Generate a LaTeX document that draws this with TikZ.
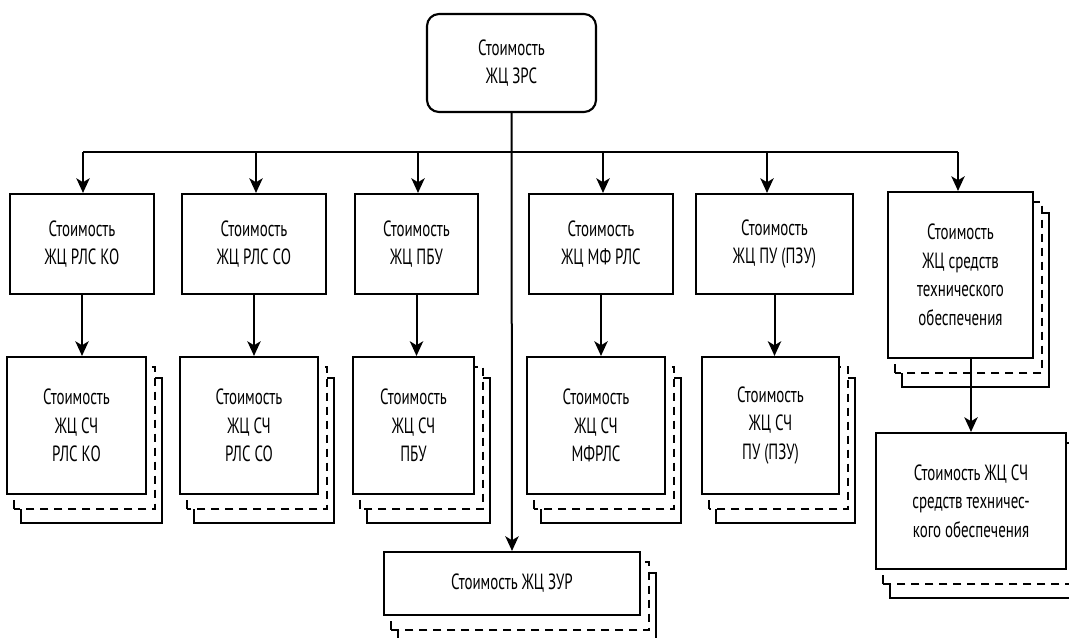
\documentclass[tikz,border=0pt]{standalone}
\usepackage{fontspec}
\setmainfont{PT Sans}[FakeStretch=0.68]
\usetikzlibrary{arrows.meta,backgrounds}
\newcommand\stackback[1]{%
  \path[backsolid] ([shift={(15,28)}]#1.south west) rectangle ([shift={(15,22)}]#1.north east);
  \path[backdash] ([shift={(8,14)}]#1.south west) rectangle ([shift={(8,11)}]#1.north east);
}
\begin{document}
\begin{tikzpicture}[x=0.75pt,y=-0.75pt,
  box/.style={draw,line width=1.6pt,fill=white,inner sep=2pt,align=center,
    font=\fontsize{16.5}{21.4}\selectfont},
  conn/.style={line width=1.5pt},
  arr/.style={conn,-{Stealth[length=11pt,width=10pt,inset=3pt]}},
  backsolid/.style={draw,line width=1.6pt,fill=white},
  backdash/.style={draw,line width=1.6pt,fill=white,dash pattern=on 6.5pt off 4pt}]
\useasboundingbox (0,0) rectangle (1069,637);
\clip (0,0) rectangle (1069,637);

% top
\node[box,rounded corners=9pt,minimum width=169*0.75pt,minimum height=98*0.75pt] (top) at (511.5,63) {Стоимость\\ЖЦ ЗРС};

% level 1
\node[box,minimum width=144*0.75pt,minimum height=100*0.75pt] (b1) at (82,244) {Стоимость\\ЖЦ РЛС КО};
\node[box,minimum width=144*0.75pt,minimum height=100*0.75pt] (b2) at (254,244) {Стоимость\\ЖЦ РЛС СО};
\node[box,minimum width=123*0.75pt,minimum height=100*0.75pt] (b3) at (416.5,244) {Стоимость\\ЖЦ ПБУ};
\node[box,minimum width=144*0.75pt,minimum height=100*0.75pt] (b4) at (601,244) {Стоимость\\ЖЦ МФ РЛС};
\node[box,minimum width=157*0.75pt,minimum height=100*0.75pt] (b5) at (774.5,244) {Стоимость\\ЖЦ ПУ (ПЗУ)};
\node[box,minimum width=145*0.75pt,minimum height=166*0.75pt] (b6) at (960.5,275) {Стоимость\\ЖЦ средств\\технического\\обеспечения};

% level 2
\node[box,minimum width=139*0.75pt,minimum height=137*0.75pt] (l1) at (76.5,425.5) {Стоимость\\ЖЦ СЧ\\РЛС КО};
\node[box,minimum width=138*0.75pt,minimum height=137*0.75pt] (l2) at (249,425.5) {Стоимость\\ЖЦ СЧ\\РЛС СО};
\node[box,minimum width=121*0.75pt,minimum height=137*0.75pt] (l3) at (413.5,425.5) {Стоимость\\ЖЦ СЧ\\ПБУ};
\node[box,minimum width=138*0.75pt,minimum height=137*0.75pt] (l4) at (596,425.5) {Стоимость\\ЖЦ СЧ\\МФРЛС};
\node[box,minimum width=137*0.75pt,minimum height=137*0.75pt] (l5) at (770.5,425.5) {Стоимость\\ЖЦ СЧ\\ПУ (ПЗУ)};
\node[box,minimum width=190*0.75pt,minimum height=136*0.75pt] (l6) at (971,501) {Стоимость ЖЦ СЧ\\средств техничес-\\кого обеспечения};

% bottom
\node[box,minimum width=256*0.75pt,minimum height=63*0.75pt] (zur) at (512,583.5) {Стоимость ЖЦ ЗУР};

\begin{pgfonlayer}{background}
  \stackback{b6}
  \stackback{l1}
  \stackback{l2}
  \stackback{l3}
  \stackback{l4}
  \stackback{l5}
  \stackback{l6}
  \stackback{zur}
\end{pgfonlayer}

% bus
\coordinate (a1) at (83,152);
\coordinate (a2) at (256,152);
\coordinate (a3) at (418,152);
\coordinate (a4) at (603,152);
\coordinate (a5) at (767,152);
\coordinate (a6) at (958,152);
\draw[conn] (a1) -- (a6);
\draw[arr] (a1) -- (a1 |- b1.north);
\draw[arr] (a2) -- (a2 |- b2.north);
\draw[arr] (a3) -- (a3 |- b3.north);
\draw[arr] (a4) -- (a4 |- b4.north);
\draw[arr] (a5) -- (a5 |- b5.north);
\draw[arr] (a6) -- (a6 |- b6.north);

\draw[arr] (top.south) -- (zur.north);

\draw[arr] (b1.south) -- (b1.south |- l1.north);
\draw[arr] (b2.south) -- (b2.south |- l2.north);
\draw[arr] (b3.south) -- (b3.south |- l3.north);
\draw[arr] (b4.south) -- (b4.south |- l4.north);
\draw[arr] (b5.south) -- (b5.south |- l5.north);
\draw[arr] (l6.north |- b6.south) -- (l6.north);
\end{tikzpicture}
\end{document}
